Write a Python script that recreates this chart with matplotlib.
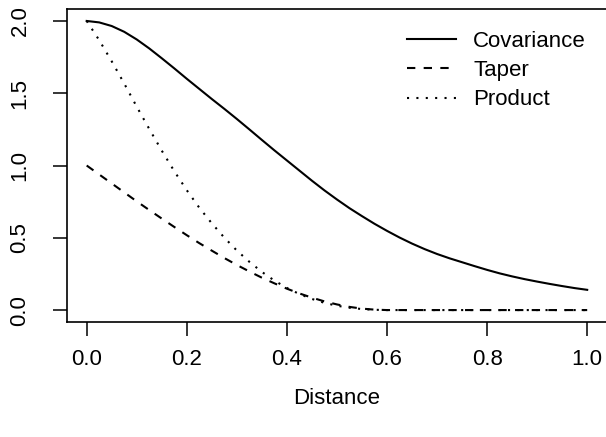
import matplotlib
matplotlib.use("Agg")
import matplotlib.pyplot as plt
import numpy as np

# distance grid (0 to 1 in steps of 0.025) and curve values
distance = np.linspace(0.0, 1.0, 41)
covariance = [2.000, 1.990, 1.965, 1.925, 1.872, 1.810, 1.742, 1.672, 1.600, 1.530,
              1.460, 1.392, 1.322, 1.250, 1.177, 1.105, 1.035, 0.965, 0.895, 0.828,
              0.765, 0.705, 0.650, 0.597, 0.548, 0.502, 0.460, 0.422, 0.388, 0.358,
              0.331, 0.304, 0.278, 0.254, 0.233, 0.214, 0.197, 0.181, 0.166, 0.152,
              0.140]
taper = [1.000, 0.938, 0.876, 0.814, 0.752, 0.692, 0.633, 0.575, 0.518, 0.463,
         0.411, 0.360, 0.312, 0.267, 0.224, 0.185, 0.148, 0.115, 0.086, 0.060,
         0.039, 0.022, 0.010, 0.003, 0.000, 0.000, 0.000, 0.000, 0.000, 0.000,
         0.000, 0.000, 0.000, 0.000, 0.000, 0.000, 0.000, 0.000, 0.000, 0.000,
         0.000]
product = [2.000, 1.867, 1.721, 1.567, 1.407, 1.253, 1.103, 0.961, 0.829, 0.708,
           0.600, 0.501, 0.412, 0.334, 0.264, 0.204, 0.153, 0.111, 0.077, 0.050,
           0.030, 0.016, 0.007, 0.002, 0.000, 0.000, 0.000, 0.000, 0.000, 0.000,
           0.000, 0.000, 0.000, 0.000, 0.000, 0.000, 0.000, 0.000, 0.000, 0.000,
           0.000]

xticks = [0.0, 0.2, 0.4, 0.6, 0.8, 1.0]
yticks = [0.0, 0.5, 1.0, 1.5, 2.0]


def main():
    plt.rcParams["font.family"] = ["Liberation Sans", "DejaVu Sans"]

    fig = plt.figure(figsize=(6.06, 4.37), dpi=100)
    ax = fig.add_axes([0.110, 0.264, 0.892, 0.7145])

    lw = 1.5
    ax.plot(distance, covariance, color="black", lw=lw, label="Covariance")
    ax.plot(distance, taper, color="black", lw=lw, linestyle=(0, (4, 4)), label="Taper")
    ax.plot(distance, product, color="black", lw=lw, linestyle=(0, (1, 3.5)), label="Product")

    # R-style 4% padding around the data range
    ax.set_xlim(-0.04, 1.04)
    ax.set_ylim(-0.08, 2.08)
    ax.set_xticks(xticks)
    ax.set_xticklabels(["%.1f" % v for v in xticks])
    ax.set_yticks(yticks)
    ax.set_yticklabels(["%.1f" % v for v in yticks], rotation=90, va="center")

    ax.tick_params(axis="both", direction="out", length=10, width=1.1,
                   labelsize=16, color="black")
    ax.tick_params(axis="x", pad=10)
    ax.tick_params(axis="y", pad=16)
    for s in ax.spines.values():
        s.set_linewidth(1.2)

    ax.set_xlabel("Distance", fontsize=16, labelpad=13)

    ax.legend(frameon=False, loc="upper right", bbox_to_anchor=(1.0, 1.0),
              fontsize=16, handlelength=2.2, handletextpad=0.8,
              labelspacing=0.38, borderaxespad=0.55)

    fig.savefig("out.png", dpi=100)


if __name__ == "__main__":
    main()
